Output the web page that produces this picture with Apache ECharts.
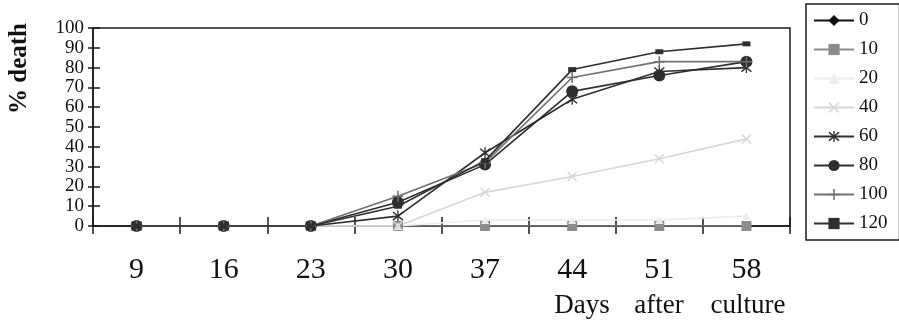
<!DOCTYPE html>
<html><head><meta charset="utf-8">
<script src="https://cdn.jsdelivr.net/npm/echarts@6/dist/echarts.min.js"></script>
<style>html,body{margin:0;padding:0;background:#fff}#c{width:899px;height:328px}</style>
</head><body><div id="c"></div>
<script>
var days = ['9','16','23','30','37','44','51','58'];
var seriesNames = ['0','10','20','40','60','80','100','120'];
var s0   = [0,0,0,0,0,0,0,0];
var s10  = [0,0,0,0,0,0,0,0];
var s20  = [0,0,0,0,3,3,3,5];
var s40  = [0,0,0,0,17,25,34,44];
var s60  = [0,0,0,5,37,64,78,80];
var s80  = [0,0,0,12,31,68,76,83];
var s100 = [0,0,0,15,32,75,83,83];
var s120 = [0,0,0,10,33,79,88,92];
var yTicks = [0,10,20,30,40,50,60,70,80,90,100];

var values = [s0,s10,s20,s40,s60,s80,s100,s120];
var colors = ['#111111','#8c8c8c','#ececec','#d6d6d6','#2e2e2e','#2e2e2e','#707070','#2e2e2e'];
var plusPath = 'path://M4.3,0 L5.7,0 L5.7,4.3 L10,4.3 L10,5.7 L5.7,5.7 L5.7,10 L4.3,10 L4.3,5.7 L0,5.7 L0,4.3 L4.3,4.3 Z';
var xPath = 'path://M0,1 L1,0 L5,4 L9,0 L10,1 L6,5 L10,9 L9,10 L5,6 L1,10 L0,9 L4,5 Z';
var starPath = 'path://M0,1 L1,0 L5,4 L9,0 L10,1 L6,5 L10,9 L9,10 L5,6 L1,10 L0,9 L4,5 Z M4.4,-1 L5.6,-1 L5.6,11 L4.4,11 Z';
var symbols = ['diamond','rect','triangle',xPath,starPath,'circle',plusPath,'rect'];
var sizes = [10,10,8,10,11,12,11,[8,5]];

var serif = '"Liberation Serif","DejaVu Serif",serif';
var series = seriesNames.map(function(n,i){
  return {
    name: n, type: 'line', data: values[i],
    symbol: symbols[i], symbolSize: sizes[i],
    lineStyle: {color: colors[i], width: 1.6},
    itemStyle: {color: colors[i]},
    emphasis: {disabled: true},
    animation: false
  };
});

var chart = echarts.init(document.getElementById('c'), null, {renderer: 'canvas'});
chart.setOption({
  backgroundColor: '#fff',
  animation: false,
  grid: {left: 93, right: 109, top: 28, bottom: 102, show: true, borderColor: '#1a1a1a', borderWidth: 1.5, backgroundColor: 'transparent'},
  legend: {
    orient: 'vertical', left: 806, top: 4,
    padding: [7, 12, 7, 7],
    itemWidth: 40, itemHeight: 14, itemGap: 10,
    borderColor: '#1a1a1a', borderWidth: 1.5,
    textStyle: {fontFamily: serif, fontSize: 19, lineHeight: 18, height: 18, color: '#111'},
    data: seriesNames
  },
  xAxis: [{
    type: 'category', data: days, boundaryGap: true,
    axisLine: {lineStyle: {color: '#1a1a1a', width: 1.5}},
    axisTick: {show: true, interval: 0, length: 8, lineStyle: {color: '#1a1a1a', width: 1.5}},
    axisLabel: {fontFamily: serif, fontSize: 30, color: '#111', margin: 29, interval: 0},
    splitLine: {show: false}
  },{
    type: 'category', data: days, boundaryGap: true, position: 'bottom',
    axisLine: {show: false},
    axisTick: {show: true, inside: true, interval: 0, length: 9, lineStyle: {color: '#1a1a1a', width: 1.5}},
    axisLabel: {show: false}, splitLine: {show: false}
  }],
  yAxis: [{
    type: 'value', min: yTicks[0], max: yTicks[yTicks.length-1], interval: 10,
    axisLine: {show: true, lineStyle: {color: '#1a1a1a', width: 1.5}},
    axisTick: {show: true, length: 5, lineStyle: {color: '#1a1a1a', width: 1.5}},
    axisLabel: {fontFamily: serif, fontSize: 19, color: '#111', margin: 9},
    splitLine: {show: false}
  },{
    type: 'value', min: 0, max: 100, interval: 10, position: 'left',
    axisLine: {show: false},
    axisTick: {show: true, inside: true, length: 7, lineStyle: {color: '#1a1a1a', width: 1.5}},
    axisLabel: {show: false}, splitLine: {show: false}
  }],
  graphic: [
    {type: 'text', left: 7, top: 23, rotation: Math.PI/2, originX: 0, originY: 0,
     style: {text: '% death', font: 'bold 25px ' + serif, fill: '#111'}},
    {type: 'text', x: 582, y: 319, style: {text: 'Days', font: '27px ' + serif, fill: '#111', textAlign: 'center', textVerticalAlign: 'bottom'}},
    {type: 'text', x: 659, y: 319, style: {text: 'after', font: '27px ' + serif, fill: '#111', textAlign: 'center', textVerticalAlign: 'bottom'}},
    {type: 'text', x: 748, y: 319, style: {text: 'culture', font: '27px ' + serif, fill: '#111', textAlign: 'center', textVerticalAlign: 'bottom'}}
  ],
  series: series
});
</script></body></html>
